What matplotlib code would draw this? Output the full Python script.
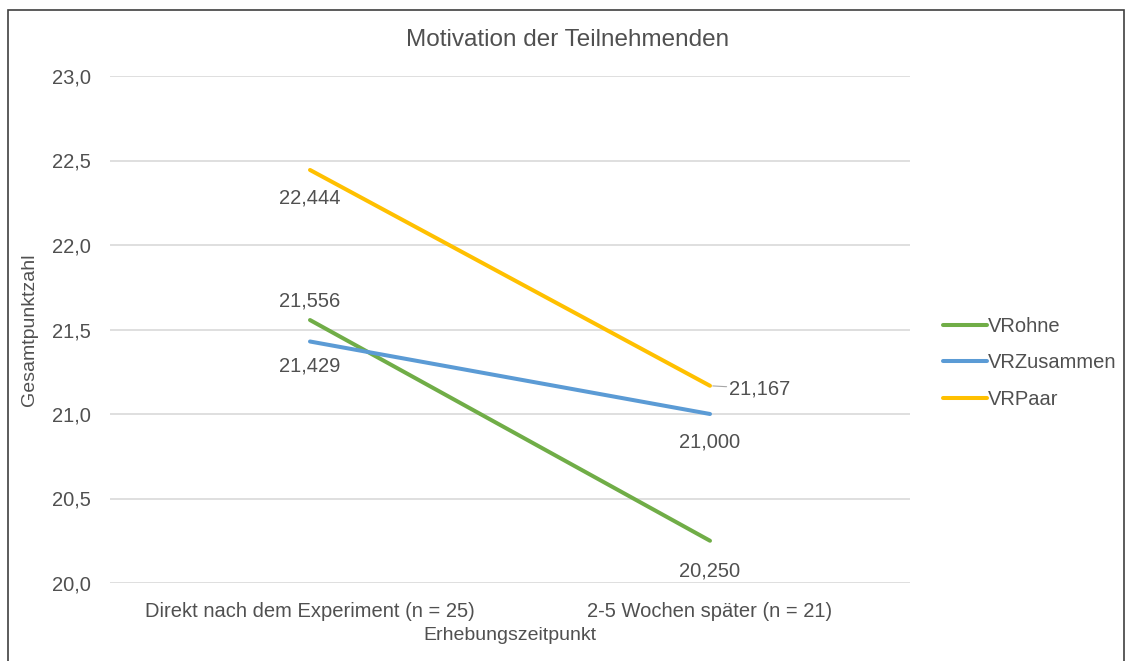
import matplotlib
matplotlib.use("Agg")
import matplotlib.pyplot as plt
from matplotlib.patches import Rectangle

plt.rcParams['font.family'] = ['Liberation Sans', 'DejaVu Sans']

categories = ["Direkt nach dem Experiment (n = 25)", "2-5 Wochen später (n = 21)"]
series_names = ["VRohne", "VRZusammen", "VRPaar"]
vr_ohne = [21.556, 20.250]
vr_zusammen = [21.429, 21.000]
vr_paar = [22.444, 21.167]
colors = ["#70AD47", "#5B9BD5", "#FFC000"]
yticks = [20.0, 20.5, 21.0, 21.5, 22.0, 22.5, 23.0]

W, H = 1127, 661
fig = plt.figure(figsize=(W / 100, H / 100), dpi=100)
ax = fig.add_axes([110 / W, 1 - 583 / H, 800 / W, (583 - 76) / H])

gray = "#505050"
x = [0, 1]
for vals, name, c in zip([vr_ohne, vr_zusammen, vr_paar], series_names, colors):
    ax.plot(x, vals, color=c, lw=2.9, label=name, solid_capstyle='round')

ax.set_xlim(-0.5, 1.5)
ax.set_ylim(20.0, 23.0)
ax.set_yticks(yticks)
ax.set_yticklabels([f"{v:.1f}".replace(".", ",") for v in yticks])
ax.set_xticks(x)
ax.set_xticklabels(categories)
ax.tick_params(axis='both', length=0, labelsize=14.5, colors=gray)
ax.tick_params(axis='y', pad=14)
ax.tick_params(axis='x', pad=14)
ax.grid(axis='y', color="#D9D9D9", lw=1.2)
ax.set_axisbelow(True)
for s in ax.spines.values():
    s.set_visible(False)

def fmt(v):
    return f"{v:.3f}".replace(".", ",")

fs = 14.5
# data labels
ax.annotate(fmt(vr_paar[0]), (0, vr_paar[0]), xytext=(0, -20), textcoords='offset points',
            ha='center', va='center', fontsize=fs, color=gray)
ax.annotate(fmt(vr_ohne[0]), (0, vr_ohne[0]), xytext=(0, 14), textcoords='offset points',
            ha='center', va='center', fontsize=fs, color=gray)
ax.annotate(fmt(vr_zusammen[0]), (0, vr_zusammen[0]), xytext=(0, -18), textcoords='offset points',
            ha='center', va='center', fontsize=fs, color=gray)
ax.annotate(fmt(vr_paar[1]), (1, vr_paar[1]), xytext=(36, -2), textcoords='offset points',
            ha='center', va='center', fontsize=fs, color=gray,
            arrowprops=dict(arrowstyle='-', color='#A6A6A6', lw=0.8, shrinkA=0, shrinkB=2))
ax.annotate(fmt(vr_zusammen[1]), (1, vr_zusammen[1]), xytext=(0, -20), textcoords='offset points',
            ha='center', va='center', fontsize=fs, color=gray)
ax.annotate(fmt(vr_ohne[1]), (1, vr_ohne[1]), xytext=(0, -22), textcoords='offset points',
            ha='center', va='center', fontsize=fs, color=gray)

fig.text(568 / W, 1 - 40 / H, "Motivation der Teilnehmenden", ha='center', va='center',
         fontsize=17.5, color=gray)
fig.text(30 / W, 1 - 330 / H, "Gesamtpunktzahl", ha='center', va='center', rotation=90,
         fontsize=14, color=gray)
fig.text(510 / W, 1 - 636 / H, "Erhebungszeitpunkt", ha='center', va='center',
         fontsize=14, color=gray)

leg = ax.legend(loc='center left', bbox_to_anchor=(925 / W, 1 - 363 / H),
                bbox_transform=fig.transFigure, frameon=False, fontsize=14.5,
                handlelength=2.2, handletextpad=0.0, labelspacing=0.85)
for t in leg.get_texts():
    t.set_color(gray)

fig.patches.append(Rectangle((8 / W, -0.05), (1124 - 8) / W, 1 - 10 / H + 0.05,
                             transform=fig.transFigure, fill=False, edgecolor="#404040", lw=1.2))

fig.savefig("out.png", dpi=100, facecolor='white')
